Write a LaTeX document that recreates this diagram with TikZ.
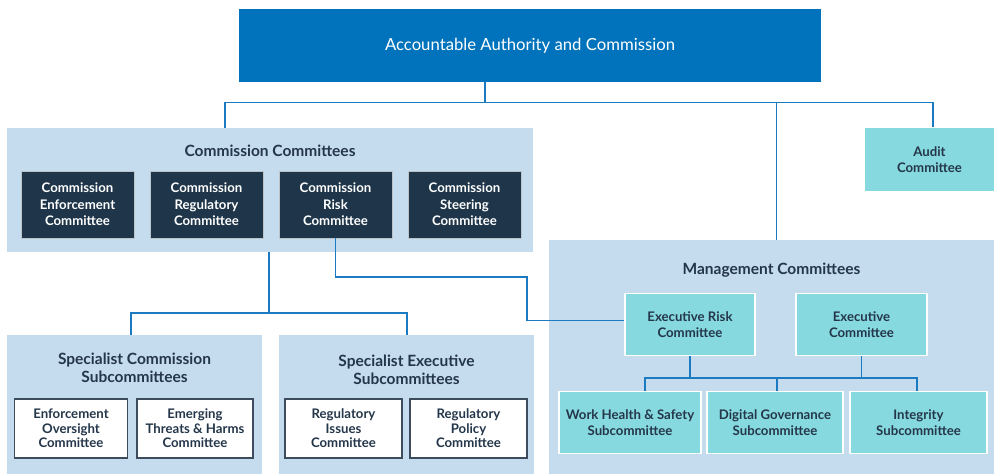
\documentclass[tikz,border=0pt]{standalone}
\usepackage{fontspec}
\setmainfont{Lato}
\definecolor{topc}{RGB}{0,115,188}
\definecolor{linkc}{RGB}{28,122,192}
\definecolor{panelc}{RGB}{197,219,238}
\definecolor{darkc}{RGB}{31,54,74}
\definecolor{tealc}{RGB}{134,217,222}
\definecolor{navyc}{RGB}{36,54,74}
\definecolor{slatec}{RGB}{60,76,92}
\begin{document}
\begin{tikzpicture}[x=1pt,y=-1pt,
  link/.style={draw=linkc, line width=1.4pt, line join=miter},
  panel/.style={fill=panelc, inner sep=0},
  paneltitle/.style={text=navyc, font=\bfseries\fontsize{15.5}{18}\selectfont, align=center},
  boxtext/.style={align=center, inner sep=0, font=\bfseries\fontsize{13.2}{16.5}\selectfont},
  darkbox/.style={boxtext, fill=darkc, draw=white!70!darkc, line width=0.8pt, text=white,
    minimum width=113, minimum height=67},
  whitebox/.style={boxtext, fill=white, draw=slatec, line width=1.3pt, text=navyc,
    minimum height=59, font=\bfseries\fontsize{13.2}{14.5}\selectfont},
  tealbox/.style={boxtext, fill=tealc, draw=white, line width=1.3pt, text=navyc, minimum height=62},
]
\useasboundingbox (0,0) rectangle (994,474);

% Top authority
\node[fill=topc, minimum width=582, minimum height=73, inner sep=0, text=white,
  font=\fontsize{16.7}{18}\selectfont] (top) at (530,45.5) {Accountable Authority and Commission};

% Commission committees
\node[panel, minimum width=526, minimum height=124] (cc) at (270,190) {};
\node[paneltitle] (cctitle) at (270,151) {Commission Committees};
\node[darkbox] (cenf) at (77.5,204.5) {Commission\\Enforcement\\Committee};
\node[darkbox] (creg) at (206.5,204.5) {Commission\\Regulatory\\Committee};
\node[darkbox] (crisk) at (335.5,204.5) {Commission\\Risk\\Committee};
\node[darkbox] (cst) at (464.5,204.5) {Commission\\Steering\\Committee};

% Audit
\node[tealbox, draw=none, minimum width=129, minimum height=63] (audit) at (929.5,159.5) {Audit\\Committee};

% Management committees
\node[panel, minimum width=445, minimum height=234] (mgmt) at (771.5,357) {};
\node[paneltitle] (mtitle) at (771.5,270) {Management Committees};
\node[tealbox, minimum width=130] (erc) at (690,324.5) {Executive Risk\\Committee};
\node[tealbox, minimum width=131] (ec) at (861.5,324.5) {Executive\\Committee};
\node[tealbox, minimum width=142] (whs) at (630,422.5) {Work Health \& Safety\\Subcommittee};
\node[tealbox, minimum width=136] (dg) at (775,422.5) {Digital Governance\\Subcommittee};
\node[tealbox, minimum width=137] (integ) at (918.5,422.5) {Integrity\\Subcommittee};

% Specialist subcommittees
\node[panel, minimum width=255, minimum height=139] (sc) at (134.5,404.5) {};
\node[paneltitle] (sctitle) at (134.5,368) {Specialist Commission\\Subcommittees};
\node[whitebox, minimum width=113.5] (eo) at (71,428.5) {Enforcement\\Oversight\\Committee};
\node[whitebox, minimum width=116] (eth) at (195,428.5) {Emerging\\Threats \& Harms\\Committee};
\node[panel, minimum width=255, minimum height=139] (se) at (406.5,404.5) {};
\node[paneltitle] (setitle) at (406.5,370) {Specialist Executive\\Subcommittees};
\node[whitebox, minimum width=117] (ri) at (343.5,428.5) {Regulatory\\Issues\\Committee};
\node[whitebox, minimum width=117] (rp) at (468.5,428.5) {Regulatory\\Policy\\Committee};

% Junction points
\coordinate (j0) at (485,102.5);
\coordinate (busL) at (225,102.5);
\coordinate (busM) at (776.5,102.5);
\coordinate (busR) at (933,102.5);
\coordinate (sbus) at (269,313);
\coordinate (sL) at (131,313);
\coordinate (sR) at (407,313);
\coordinate (r1) at (527,277);
\coordinate (r2) at (527,320.5);
\coordinate (m1) at (645,378);
\coordinate (m2) at (777,378);
\coordinate (m3) at (917,378);

% Connectors
\draw[link] (top.south -| j0) -- (j0);
\draw[link] (cc.north -| busL) -- (busL) -- (busR) -- (audit.north -| busR);
\draw[link] (busM) -- (mgmt.north -| busM);
\draw[link] (cc.south -| sbus) -- (sbus);
\draw[link] (sc.north -| sL) -- (sL) -- (sR) -- (se.north -| sR);
\draw[link] (crisk.south) |- (r1) -- (r2) -- (r2 -| erc.west);
\draw[link] (erc.south) -- (erc.south |- m1);
\draw[link] (ec.south) -- (ec.south |- m1);
\draw[link] (whs.north -| m1) -- (m1) -- (m3) -- (integ.north -| m3);
\draw[link] (m2) -- (dg.north -| m2);
\end{tikzpicture}
\end{document}
